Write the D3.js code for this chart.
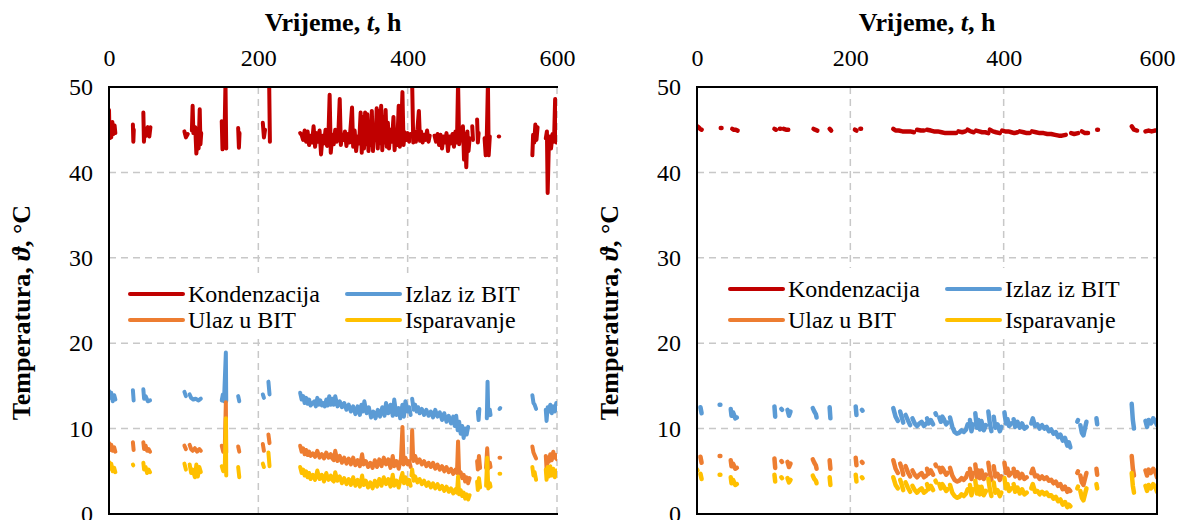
<!DOCTYPE html>
<html>
<head>
<meta charset="utf-8">
<script src="https://cdn.jsdelivr.net/npm/d3@7"></script>
<style>
  body { margin: 0; background: #fff; }
  text { font-family: "Liberation Serif", "Times New Roman", Times, "DejaVu Serif", serif; }
</style>
</head>
<body>
<svg id="chartSVG" width="1178" height="520"></svg>
<script>
const timeTicks = [0, 200, 400, 600];
const tempTicks = [0, 10, 20, 30, 40, 50];
const seriesNames = ["Kondenzacija", "Izlaz iz BIT", "Ulaz u BIT", "Isparavanje"];
const seriesColors = ["#C00000", "#5B9BD5", "#ED7D31", "#FFC000"];
const serifFont = '"Liberation Serif", "Times New Roman", Times, "DejaVu Serif", serif';

// each series = list of segments, each segment = [t (h), temperature (°C)]
// left panel
const leftKond = [
  [[0,47.3],[0.8,44],[1.8,45.6],[3,44.1],[4.5,45.9],[6,44.5],[7.5,45.5],[8.5,44.6]],
  [[32,45.6],[32.6,43.6],[33.2,45]],
  [[46,47],[46.8,43.6],[48,45.2],[50,44.3],[52,45.3],[54,44.2],[55.5,45.3]],
  [[101,44.8],[103,44.1],[105.5,44.5]],
  [[111,44.9],[112,47.8],[113,44.6],[115.5,45.3],[117,42.2],[118.5,44.2],[120,42.8],[121.5,47.4],[122.5,43.3],[123.5,44.6]],
  [[151,46],[152,42.7],[153,45.5],[154.5,43.2],[156,50.5],[157,42.8]],
  [[173,45.2],[174,42.9],[174.8,44.6]],
  [[206,45.8],[207.5,44.1],[209,45]],
  [[214.5,50.5],[215.5,43.6]],
  [[256,44.6],[258,44.4],[260,43.8],[262,44.9],[264,43.6],[266,44.8],[268,43.2],[270,44.3],[272,43.5],[274,45.4],[276,43],[278,44.6],[280,43.6],[282,44.9],[284,42.1],[286,44.3],[288,43.4],[290,45],[292,43.1],[294,44.6],[295.5,49.1],[297,42.3],[299,44.4],
   [301,43.3],[303,45],[305,43.6],[307,44.2],[309,48.6],[310.5,43.2],[312,44.3],[314,43.8],[316,44.8],[318,43.1],[320,44.5],[322,43.5],[324,45.8],[325.5,47.6],[327,43],[329,44.9],[331,42.5],[333,44.2],[335,43.4],[337,47],[338.5,42.3],[340,46.5],[341.5,42.8],[343,47],[344.5,43.3],[346,46.8],[347.5,42.5],[349,45.4],[350.5,43.2],[352,47.2],[353.5,42.5],[355,44.5],[357,43.8],[358.5,47.5],[360,42.8],[361.5,47.2],[363,43.4],[364.5,47.8],[366,42.6],[367.5,46.5],[369,43.5],[370.5,47.3],[372,43],[373.5,45.8],[375,42.8],[377,45],[379,43.6],[381,46.5],[382.5,42.6],[384,44.6],[386,43.2],[388,47.8],[389.5,43],[391,44],[393,49.4],[394.5,43.2],[396,44.7],[398,43.8],[400,44.6],[402,43.6],[404,44.5]],
  [[406,50.5],[407.5,43.5],[409,44.8],[411,43.6],[413,45],[415,47.2],[416.5,43.7],[418,44.8],[420,43.5],[422,44.4],[424,43.8],[426,44.9],[428,43.6],[429.5,44.3]],
  [[436,44.3],[438,43.6],[440,44.5],[442,43.2],[444,44.4],[446,42.8],[448,44.2],[450,43.5],[452,44.6],[454,42.5],[456,44.2],[458,43.4],[460,44.5],[462,43],[464,44.8],[466,43.5],[467.5,50.5],[469,43.3],[471,45],[472.5,43.8],[474,45.4],[475.5,41.5],[477,44.5],[478.5,40.6],[480,44.8],[481.5,42.5],[483,44]],
  [[486.5,45.4],[487.5,43.8]],
  [[493,46.2],[494,43.5],[495,44.6]],
  [[503,44],[504.5,42],[506,44.3],[507.5,50.5],[508.5,42],[510,44.2]],
  [[522,44.2],[522.5,44.2]],
  [[567,42],[568,44.4],[569.5,43.5],[571,45.6],[572.5,43.8],[574,45.3]],
  [[585,44],[586.5,44.8],[587.5,37.6],[589,43],[590.5,44.2],[592,42.8],[594,44.5],[596,43.6],[597.5,48.6],[599,43.5],[600,44.4]]
];
const leftIzlaz = [
  [[0,14.4],[1.5,13.6],[3,14.2],[5,13.2],[7,13.9],[8.5,13.4]],
  [[32,14.5],[33,13.3]],
  [[46,14.6],[47,13.5],[49,13.8],[52,13.2],[55,13.3]],
  [[101,14.3],[103,13.8]],
  [[108,14],[110,13.6],[113,13.4],[116,13.5],[120,13.3],[123,13.5]],
  [[151,13.3],[152.5,14],[154,13.2],[156.5,18.9],[157,13.2]],
  [[173,13.8],[174.5,13.2]],
  [[206,14],[207.5,13.6]],
  [[213.5,15.5],[215,14]],
  [[256,14.2],[258,13.4],[260,13.8],[262,13],[264,13.6],[266,12.9],[268,13.4],[270,12.7],[272,12.9],[275,13.2],[277,12.6],[279,13.6],[281,12.8],[283,13.3],[285,12.7],[287,13],[289,12.6],[291,13.4],[293,12.7],[295,13.8],[297,12.8],[299,13.5],
   [301,12.8],[303,13.8],[306,12.6],[309,13.2],[312,12.5],[315,13],[318,12.2],[321,12.8],[324,12],[327,12.6],[330,11.7],[333,12.6],[336,11.6],[338,12.8],[340,12],[342,13.2],[345,11.8],[348,12.5],[351,11.3],[354,12],[357,11.2],[360,12.2],[363,11.4],[366,12.5],[369,11.5],[371,13],[374,11.8],[377,12.8],[380,11.5],[382,13.4],[385,11.6],[388,12.4],[390,11.2],[393,12.8],[395,11.4],[397,13.2],[400,12],[402,12.5],[404,11.6]],
  [[406,13.5],[408,12.2],[410,12.8],[412,12],[414,12.5],[416,11.8],[419,12.3],[422,11.6],[425,12.2],[428,11.5],[431,12],[434,11.3],[437,12.2],[440,11.4],[443,11.9],[446,11],[449,11.8],[452,10.8],[455,11.5],[458,10.6],[461,11.4],[463,10.3],[465,11.5],[467,9.8],[469,10.8],[471,9.4],[473,10.3],[475,8.9],[477,10],[479,9.3],[481,10.2]],
  [[494,12],[495,11],[496,12.3]],
  [[506,11.2],[507,15.5],[508,11.5],[510,12.2],[511,11.6]],
  [[523,12.3],[524,12.4]],
  [[567,13.9],[568.5,13],[570,12.8],[572,12.3]],
  [[585,12.2],[586,10.9],[587.5,12.5],[589,12],[591,12.8],[593,11.8],[595,12.6],[597,12],[599,13],[600,12.2]]
];
const leftUlaz = [
  [[0,8.3],[1.5,7.5],[3,8.1],[5,7.4],[7,7.8],[8.5,7.3]],
  [[32,8.4],[33,7.5]],
  [[46,8.4],[47,7.6],[49,8],[51,7.4],[53,7.6],[55,7.3]],
  [[101,8],[103,7.6]],
  [[108,8.1],[110,7.6],[112,7.4],[115,7.7],[118,7.3],[121,7.6],[123,7.4]],
  [[151,8],[153,7.3],[155,7.5],[156.5,13.1],[157,7.2]],
  [[173,7.9],[174.5,7.3]],
  [[206,8.2],[207.5,7.4]],
  [[213.5,9.3],[215,8.3]],
  [[256,8],[258,7.3],[260,7.7],[262,7],[264,7.5],[266,6.9],[268,7.3],[270,6.8],[273,7.1],[276,6.7],[279,7.4],[282,6.6],[285,7],[288,6.5],[291,7.2],[294,6.6],[297,7],[299,6.5],
   [301,6.3],[303,7.4],[306,6.2],[309,6.8],[312,6],[315,6.6],[318,5.9],[321,6.5],[324,5.8],[327,6.6],[330,5.7],[333,6.3],[336,5.6],[339,7],[341,5.8],[344,6.2],[347,5.5],[350,6],[353,5.4],[356,6.3],[359,5.5],[362,6.4],[365,5.6],[368,6.6],[371,5.8],[374,6.4],[377,5.4],[380,6.8],[382,5.6],[385,6.2],[388,5.3],[391,6.5],[393,10.2],[394.5,5.8],[397,6.6],[400,5.8],[402,6.2],[404,5.5]],
  [[405,6.5],[406,9.8],[407.5,6.2],[410,6.8],[413,6],[416,6.4],[419,5.8],[422,6.2],[425,5.6],[428,6],[431,5.5],[434,6],[437,5.3],[440,5.8],[443,5.2],[446,5.6],[449,5],[452,5.5],[455,4.9],[458,5.3],[461,4.7],[464,5.2],[466,4.8],[467.5,8.5],[469,4.6],[471,4.9],[473,4.2],[475,4.6],[477,3.8],[479,4.3],[481,3.6],[483,4.2]],
  [[493,6.2],[494,5.2],[495.5,6.8],[497,5.4]],
  [[505,5.4],[506.5,7.7],[508,5.3],[510,6],[511,5.5]],
  [[523,6.6],[524,6.6]],
  [[567,7.9],[568.5,7.2],[570,6.9],[572,6.5]],
  [[585,6.8],[586,5.3],[587.5,6.6],[589,6.1],[591,7],[593,6.3],[595,7.3],[597,6.6],[599,6.9],[600,6.4]]
];
const leftIsp = [
  [[0,6.1],[1.5,5.3],[3,5.9],[5,5],[7,5.4],[8.5,4.9]],
  [[32,5.8],[32.5,5.7]],
  [[46,6],[47,5.2],[49,5.5],[51,4.8],[53,5.2],[55,4.9]],
  [[101,5.9],[103,5.2]],
  [[108,5.8],[110,4.8],[112,5.2],[115,4.3],[117,5.8],[119,4.4],[121,5.5],[123,4.9]],
  [[151,5.6],[153,5],[155,5.2],[156.5,11.2],[157,4.5]],
  [[173,5.5],[174.5,4.3]],
  [[206,5.9],[207.5,5.5]],
  [[213.5,7.2],[215,5.6]],
  [[256,5.5],[258,4.8],[260,5.2],[262,4.5],[264,5],[266,4.3],[268,4.8],[270,4.1],[273,4.6],[276,4],[279,5.1],[282,4.1],[285,4.6],[288,3.8],[291,4.8],[294,4],[297,4.5],[299,4],
   [301,3.8],[303,4.9],[306,3.9],[309,4.4],[312,3.6],[315,4.2],[318,3.5],[321,4.1],[324,3.4],[327,4.3],[330,3.3],[333,4],[336,3.2],[339,4.5],[341,3.4],[344,3.9],[347,3.1],[350,3.7],[353,3],[356,3.9],[359,3.2],[362,4.1],[365,3.3],[368,4.3],[371,3.5],[374,4.1],[377,3.2],[380,4.6],[382,3.3],[385,3.9],[388,3.1],[391,4.2],[393,4.8],[395,3.6],[397,4.3],[400,3.5],[402,4],[404,3.3]],
  [[405,4.5],[406,5.2],[408,3.9],[410,4.4],[413,3.7],[416,4.1],[419,3.5],[422,3.9],[425,3.3],[428,3.7],[431,3.1],[434,3.6],[437,3],[440,3.5],[443,2.9],[446,3.3],[449,2.7],[452,3.2],[455,2.6],[458,3],[461,2.4],[464,2.9],[466,2.5],[467.5,4.4],[469,2.3],[471,2.8],[473,2.1],[475,2.5],[477,1.8],[479,2.3],[481,1.7],[483,2.2]],
  [[493,3.8],[494,2.8],[495.5,4.2],[497,3.1]],
  [[505,3.3],[506.5,6.6],[508,3],[510,3.6],[511,3.2]],
  [[523,4.7],[524,4.7]],
  [[567,5.5],[568.5,4.5],[570,4.9],[572,4]],
  [[585,5.2],[586,4],[587.5,5.5],[589,4.4],[591,5.6],[593,4.5],[595,5.3],[597,4.3],[599,5.1],[600,4.6]]
];

// right panel
const rightKond = [
  [[0,45.4],[2,45.3],[4,45.1],[6,45]],
  [[31,45.2],[32,45.2]],
  [[46,45.1],[48,45],[50,45],[53,44.9]],
  [[101,45.1],[103,45]],
  [[108,45.1],[109,45.1]],
  [[113,45.1],[116,45],[119,45]],
  [[152,45.1],[154,45],[157,44.9]],
  [[173,45.1],[175,44.9]],
  [[206,45],[208,44.9]],
  [[213,45.1],[214,45.1]],
  [[256,45.1],[259,44.9],[263,44.9],[268,44.8],[273,44.8],[278,44.8],[283,44.7]],
  [[287,45],[292,44.9],[296,44.9]],
  [[300,45],[305,44.9],[309,44.8],[314,44.8],[319,44.7],[324,44.6],[329,44.6],[334,44.6],[338,44.6]],
  [[341,44.8],[346,44.7],[350,44.8]],
  [[353,45],[357,44.8],[361,44.7]],
  [[364,44.9],[368,44.8],[372,44.7],[376,44.7],[380,44.6]],
  [[382,45],[386,44.8],[390,44.7],[395,44.6]],
  [[398,44.9],[402,44.8],[406,44.8],[410,44.7],[414,44.6],[418,44.7]],
  [[421,44.8],[426,44.7],[430,44.6],[434,44.6]],
  [[437,44.8],[442,44.7],[447,44.6],[452,44.6],[457,44.5],[462,44.5],[467,44.4],[472,44.3],[476,44.3],[481,44.4]],
  [[488,44.6],[492,44.5],[497,44.6]],
  [[502,44.8],[506,44.6],[510,44.6]],
  [[522,45],[523,45]],
  [[567,45.4],[570,45],[574,44.9]],
  [[585,44.8],[589,44.9],[593,44.8],[597,44.9],[600,44.9]]
];
const rightIzlaz = [
  [[4.5,12.5],[6,11.8]],
  [[29.5,12.8],[30.5,12.8]],
  [[44,12.3],[45,11.5],[47,11.9],[50,11.2],[52,11.3]],
  [[101,12.6],[102,11.4]],
  [[110,12.3],[111,12.2]],
  [[118,12.2],[120,11.5],[122,12]],
  [[151,12.4],[153,12],[155,11.7],[156,11.3]],
  [[173,12.5],[174,11.2]],
  [[207,12.6],[208,11.6]],
  [[215,12.2],[216,12.1]],
  [[256,12.4],[259,11.4],[262,10.9]],
  [[265,12],[267.5,11.2],[269,10.7]],
  [[272,11.6],[275,11],[278,10.4]],
  [[281,11.2],[284,10.6],[287,10.3],[290,10.6],[293,10.8],[296,10.3],[299,10.6]],
  [[300,11.2],[302,10.6],[305,11],[308,10.5]],
  [[311,11.8],[312,11.6]],
  [[316,11.3],[318,10.8],[320,11.4],[322,11.1],[325,10.5],[327,10.7]],
  [[330,11.3],[333,10.2],[336,9.6],[339,9.4],[342,9.5],[345,9.8],[348,9.6],[351,9.9],[353,10.5]],
  [[356,11],[358,9.7],[360,10.5]],
  [[363,11.8],[365,10.1],[367,11],[369,9.9],[371,10.9],[374,9.8],[377,10.4]],
  [[380,12],[382,10.6],[384,9.7]],
  [[387,11.4],[389,10.1],[392,10.5],[395,9.7],[397,10.2]],
  [[401,11.9],[403,10.6],[405,11.1],[407,10.3],[410,10.6]],
  [[413,11.1],[415,10.2],[418,10.8],[421,10.1],[424,10.6],[427,10],[430,10.2]],
  [[436,10.6],[438,11.2],[441,10.3],[444,10.5],[447,10]],
  [[450,10.4],[453,10],[456,10.2],[459,9.7],[462,9.9],[465,9.4],[468,9.6],[471,9],[474,9.3],[477,8.6],[480,8.9],[483,8],[485,8.4],[487,7.8]],
  [[496,10.8],[497,11]],
  [[500,10.4],[502,9.5],[504,9.2],[506,10],[508,10.8]],
  [[521,11.2],[522,10.5]],
  [[567,12.9],[568.5,11],[570,10]],
  [[585,10.9],[587,10.2],[589,11],[592,10.6],[595,11.2],[598,10.8],[600,10.4]]
];
const rightUlaz = [
  [[4.5,6.7],[6,6]],
  [[29.5,6.8],[30.5,6.8]],
  [[44,6.3],[45,5.6],[47,5.9],[50,5.3],[52,5.4]],
  [[101,6.5],[102,5.4]],
  [[110,6.2],[111,6.1]],
  [[118,6.1],[120,5.5],[122,5.9]],
  [[151,6.4],[153,6],[155,5.7],[156,5.3]],
  [[173,6.3],[174,5.3]],
  [[207,6.6],[208,5.7]],
  [[215,6.1],[216,6]],
  [[256,6.3],[259,5.3],[262,4.8]],
  [[265,5.9],[267.5,5.2],[269,4.6]],
  [[272,5.6],[275,4.9],[278,4.4]],
  [[281,5.1],[284,4.6],[287,4.3],[290,4.6],[293,4.8],[296,4.3],[299,4.5]],
  [[300,5.3],[302,4.7],[305,5.1],[308,4.6]],
  [[311,5.8],[312,5.6]],
  [[316,5.4],[318,4.9],[320,5.4],[322,5.1],[325,4.6],[327,4.8]],
  [[330,5.4],[333,4.5],[336,4],[339,3.8],[342,3.9],[345,4.2],[348,4],[351,4.3],[353,4.8]],
  [[356,5.3],[358,4.1],[360,4.8]],
  [[363,5.8],[365,4.3],[367,5.1],[369,4.2],[371,5.1],[374,4.1],[377,4.6]],
  [[380,6],[382,4.8],[384,4]],
  [[387,5.6],[389,4.4],[392,4.7],[395,4],[397,4.4]],
  [[401,6],[403,4.8],[405,5.3],[407,4.5],[410,4.8]],
  [[413,5.3],[415,4.4],[418,4.9],[421,4.2],[424,4.7],[427,4.1],[430,4.3]],
  [[436,4.8],[438,5.3],[441,4.4],[444,4.5],[447,4.1]],
  [[450,4.4],[453,4.1],[456,4.3],[459,3.9],[462,4],[465,3.6],[468,3.8],[471,3.3],[474,3.5],[477,2.9],[480,3.2],[483,2.6],[485,2.9],[487,2.7]],
  [[496,4.8],[497,5]],
  [[500,4.5],[502,3.7],[504,3.4],[506,4.1],[508,4.8]],
  [[521,5.3],[522,4.6]],
  [[567,6.8],[568.5,5.3],[570,4.5]],
  [[585,5.1],[587,4.5],[589,5.2],[592,4.8],[595,5.3],[598,4.9],[600,4.3]]
];
const rightIsp = [
  [[0,5.2],[0.5,5.1]],
  [[4.5,4.7],[6,4.1]],
  [[29.5,4.6],[30.5,4.6]],
  [[44,4.3],[45,3.6],[47,4],[50,3.4],[52,3.5]],
  [[101,4.6],[102,3.8]],
  [[110,4.3],[111,4.2]],
  [[118,4.2],[120,3.7],[122,4]],
  [[151,4.5],[153,4.1],[155,3.9],[156,3.6]],
  [[173,4.3],[174,3.4]],
  [[207,4.6],[208,3.8]],
  [[215,4.3],[216,4.2]],
  [[256,4.3],[259,3.4],[262,3]],
  [[265,4],[267.5,3.3],[269,2.8]],
  [[272,3.7],[275,3.1],[278,2.6]],
  [[281,3.3],[284,2.8],[287,2.5],[290,2.8],[293,3],[296,2.5],[299,2.7]],
  [[300,3.5],[302,2.9],[305,3.3],[308,2.8]],
  [[311,3.9],[312,3.7]],
  [[316,3.5],[318,3],[320,3.5],[322,3.2],[325,2.7],[327,2.9]],
  [[330,3.4],[333,2.5],[336,2.1],[339,1.9],[342,2],[345,2.3],[348,2.1],[351,2.4],[353,2.9]],
  [[356,3.4],[358,2.2],[360,2.9]],
  [[363,3.9],[365,2.4],[367,3.2],[369,2.3],[371,3.2],[374,2.2],[377,2.7]],
  [[380,4.1],[382,2.9],[384,2.1]],
  [[387,3.7],[389,2.5],[392,2.8],[395,2.1],[397,2.5]],
  [[401,4.2],[403,3],[405,3.5],[407,2.7],[410,3]],
  [[413,3.5],[415,2.6],[418,3.1],[421,2.4],[424,2.9],[427,2.3],[430,2.5]],
  [[436,3],[438,3.5],[441,2.6],[444,2.7],[447,2.3]],
  [[450,2.6],[453,2.3],[456,2.5],[459,2.1],[462,2.2],[465,1.8],[468,2],[471,1.5],[474,1.7],[477,1.1],[480,1.4],[483,0.8],[485,1.1],[487,0.9]],
  [[496,3],[497,3.2]],
  [[500,2.7],[502,1.9],[504,1.6],[506,2.3],[508,3]],
  [[521,3.5],[522,3]],
  [[567,4.8],[568.5,3.3],[570,2.5]],
  [[585,3.3],[587,2.7],[589,3.4],[592,3],[595,3.5],[598,3.1],[600,2.6]]
];

const panels = [
  { id: "L", left: 109, right: 557, top: 87, bottom: 514, boxRight: false, lineWidth: 4,
    series: [leftKond, leftIzlaz, leftUlaz, leftIsp],
    legend: { x: 130, y: 294, col: 217, row: 26, w: 53, bg: [116, 273, 436, 62] } },
  { id: "R", left: 697, right: 1157, top: 87, bottom: 514, boxRight: true, lineWidth: 4.5,
    series: [rightKond, rightIzlaz, rightUlaz, rightIsp],
    legend: { x: 730, y: 289, col: 217, row: 31, w: 53, bg: [712, 268, 436, 66] } }
];

function init() {
  let svg = d3.select("#chartSVG");
  panels.forEach((p) => drawPanel(svg, p));
}

function drawPanel(svg, p) {
  let x = d3.scaleLinear().domain([0, 600]).range([p.left, p.right]);
  let y = d3.scaleLinear().domain([0, 50]).range([p.bottom, p.top]);
  let g = svg.append("g").attr("id", `panel${p.id}`).style("font-family", serifFont);

  g.append("clipPath")
    .attr("id", `clip${p.id}`)
    .append("rect")
    .attr("x", p.left)
    .attr("y", p.top)
    .attr("width", p.right - p.left)
    .attr("height", p.bottom - p.top);

  // grid
  g.selectAll(".hgrid")
    .data(tempTicks.filter((d) => d > 0 && d < 50))
    .enter()
    .append("line")
    .attr("x1", p.left).attr("x2", p.right)
    .attr("y1", (d) => y(d)).attr("y2", (d) => y(d))
    .style("stroke", "#C8C8C8")
    .style("stroke-width", 1.5)
    .style("stroke-dasharray", "7,5");
  g.selectAll(".vgrid")
    .data(timeTicks.filter((d) => d > 0 && (d < 600 || !p.boxRight)))
    .enter()
    .append("line")
    .attr("x1", (d) => x(d)).attr("x2", (d) => x(d))
    .attr("y1", p.top).attr("y2", p.bottom)
    .style("stroke", "#C8C8C8")
    .style("stroke-width", 1.5)
    .style("stroke-dasharray", "7,5");

  // series
  let line = d3.line().x((d) => x(d[0])).y((d) => y(d[1]));
  let plot = g.append("g").attr("clip-path", `url(#clip${p.id})`);
  p.series.forEach((segs, i) => {
    plot.selectAll(`.s${i}`)
      .data(segs)
      .enter()
      .append("path")
      .attr("class", `s${i}`)
      .attr("d", line)
      .style("fill", "none")
      .style("stroke", seriesColors[i])
      .style("stroke-width", p.lineWidth)
      .style("stroke-linecap", "round")
      .style("stroke-linejoin", "round");
  });

  // frame
  let frame = [
    [p.left, p.top, p.right, p.top],
    [p.left, p.top, p.left, p.bottom],
    [p.left, p.bottom, p.right, p.bottom]
  ];
  if (p.boxRight) frame.push([p.right, p.top, p.right, p.bottom]);
  g.selectAll(".frame")
    .data(frame)
    .enter()
    .append("line")
    .attr("x1", (d) => d[0]).attr("y1", (d) => d[1])
    .attr("x2", (d) => d[2]).attr("y2", (d) => d[3])
    .style("stroke", "#000")
    .style("stroke-width", 2)
    .style("stroke-linecap", "square");

  // axes
  let xAxis = g.append("g")
    .attr("transform", `translate(0,${p.top})`)
    .call(d3.axisTop(x).tickValues(timeTicks).tickSize(0).tickPadding(21));
  let yAxis = g.append("g")
    .attr("transform", `translate(${p.left},0)`)
    .call(d3.axisLeft(y).tickValues(tempTicks).tickSize(0).tickPadding(16));
  [xAxis, yAxis].forEach((a) => {
    a.attr("font-family", null).attr("font-size", null);
    a.select(".domain").remove();
    a.selectAll("text")
      .style("font-family", serifFont)
      .style("font-size", "24px")
      .style("fill", "#000");
  });

  // titles
  let xt = g.append("text")
    .attr("x", (p.left + p.right) / 2)
    .attr("y", 31)
    .attr("text-anchor", "middle")
    .style("font-family", serifFont)
    .style("font-size", "26px")
    .style("font-weight", "bold");
  xt.append("tspan").text("Vrijeme, ");
  xt.append("tspan").style("font-style", "italic").text("t");
  xt.append("tspan").text(", h");

  let yt = g.append("text")
    .attr("transform", `translate(${p.left - 79},${(p.top + p.bottom) / 2 + 12}) rotate(-90)`)
    .attr("text-anchor", "middle")
    .style("font-family", serifFont)
    .style("font-size", "26px")
    .style("font-weight", "bold");
  yt.append("tspan").text("Temperatura, ");
  yt.append("tspan").style("font-style", "italic").text("ϑ");
  yt.append("tspan").text(", °C");

  // legend
  let L = p.legend;
  g.append("rect")
    .attr("x", L.bg[0]).attr("y", L.bg[1])
    .attr("width", L.bg[2]).attr("height", L.bg[3])
    .style("fill", "#fff");
  let items = g.selectAll(".legendItem")
    .data(seriesNames)
    .enter()
    .append("g")
    .attr("transform", (d, i) => `translate(${L.x + (i % 2) * L.col},${L.y + Math.floor(i / 2) * L.row})`);
  items.append("line")
    .attr("x1", 0).attr("x2", L.w)
    .style("stroke", (d, i) => seriesColors[i])
    .style("stroke-width", 4)
    .style("stroke-linecap", "round");
  items.append("text")
    .attr("x", L.w + 5)
    .attr("dy", "0.35em")
    .style("font-family", serifFont)
    .style("font-size", "24px")
    .text((d) => d);
}

init();
</script>
</body>
</html>
